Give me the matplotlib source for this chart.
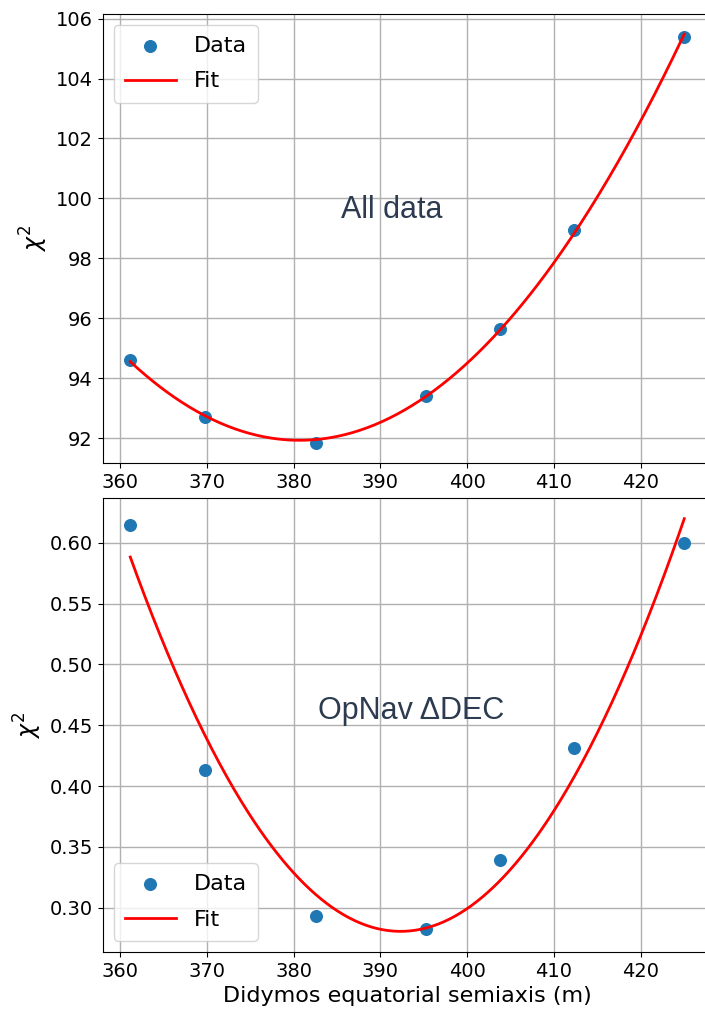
import numpy as np
import matplotlib
matplotlib.use("Agg")
import matplotlib.pyplot as plt

# Didymos equatorial semiaxis (m)
semiaxis = [361.2, 369.8, 382.6, 395.3, 403.8, 412.3, 425.0]
chi2_all = [94.62, 92.70, 91.85, 93.40, 95.65, 98.95, 105.40]
chi2_dec = [0.615, 0.413, 0.293, 0.283, 0.339, 0.431, 0.600]

labels = ["All data", "OpNav \u0394DEC"]
label_pos = [(391.3, 99.6), (393.5, 0.4615)]
legend_loc = ["upper left", "lower left"]

fig = plt.figure(figsize=(7.05, 10.16), dpi=100)
ax1 = fig.add_axes([0.1455, 0.5443, 0.8644, 0.4423])
ax2 = fig.add_axes([0.1455, 0.063, 0.8644, 0.4468])

x = np.array(semiaxis)
xf = np.linspace(x.min(), x.max(), 300)

for ax, y, lab, pos, loc in zip([ax1, ax2], [chi2_all, chi2_dec], labels, label_pos, legend_loc):
    coef = np.polyfit(x, y, 2)
    ax.scatter(x, y, s=70, color="#1f77b4", label="Data")
    ax.plot(xf, np.polyval(coef, xf), color="red", lw=2, label="Fit")
    ax.grid(True, color="#b0b0b0", lw=1)
    ax.set_axisbelow(True)
    ax.set_ylabel(r"$\chi^2$", fontsize=17)
    ax.tick_params(labelsize=14)
    ax.legend(loc=loc, fontsize=16, labelspacing=0.7, handlelength=2.3, borderpad=0.5)
    ax.text(pos[0], pos[1], lab, fontsize=22, family=["Liberation Sans", "DejaVu Sans"],
            color="#2d3b50", ha="center", va="center")
    ax.set_xticks([360, 370, 380, 390, 400, 410, 420])

ax2.set_xlabel("Didymos equatorial semiaxis (m)", fontsize=16)

fig.savefig("out.png", dpi=100)
